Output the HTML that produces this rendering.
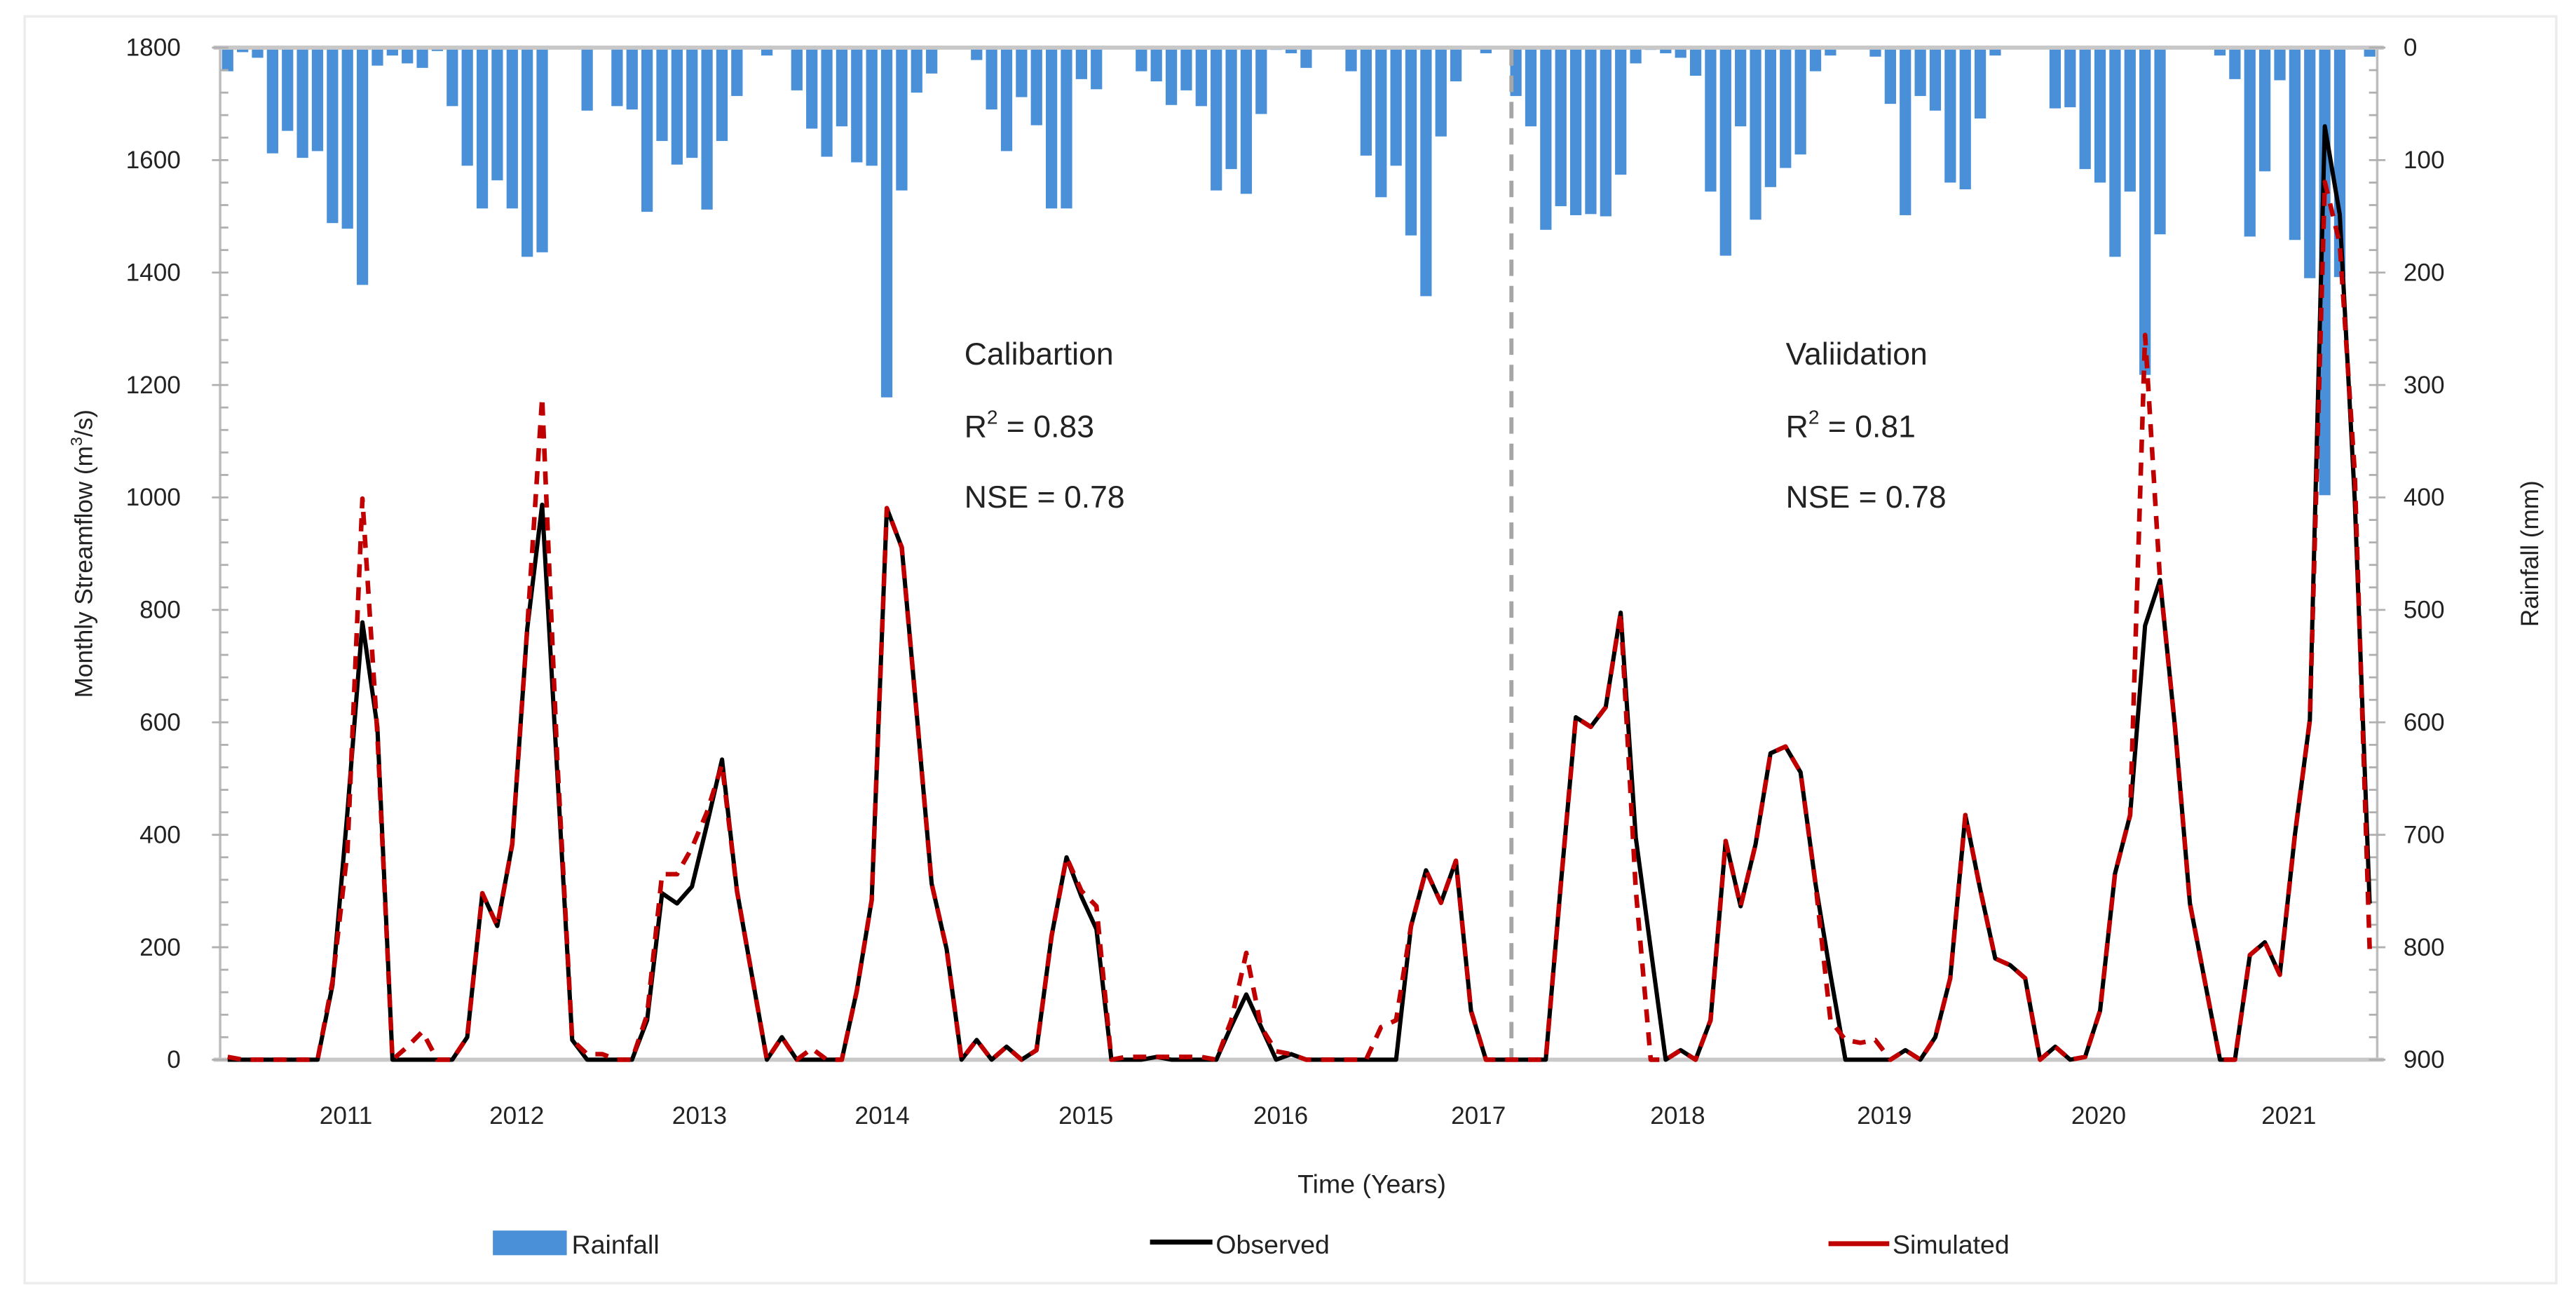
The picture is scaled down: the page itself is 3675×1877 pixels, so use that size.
<!DOCTYPE html>
<html><head><meta charset="utf-8"><title>Streamflow chart</title>
<style>
html,body{margin:0;padding:0;background:#fff;}
svg{display:block;font-family:"Liberation Sans",sans-serif;}
</style></head>
<body>
<svg id="chart" width="3675" height="1877" viewBox="0 0 1568 801" preserveAspectRatio="none" xmlns="http://www.w3.org/2000/svg">
<rect x="15" y="10" width="1541" height="771" fill="#fff" stroke="#ececec" stroke-width="1.5"/>
<g id="bars"></g>
<g id="axes"></g>
<line x1="920" y1="30" x2="920" y2="645" stroke="#a6a6a6" stroke-width="2.5" stroke-dasharray="10,6"/>
<g id="lines"></g>
<g font-size="19" fill="#222">
<text x="587" y="222">Calibartion</text>
<text x="587" y="266">R<tspan font-size="12" dy="-8">2</tspan><tspan dy="8"> = 0.83</tspan></text>
<text x="587" y="309">NSE = 0.78</text>
</g>
<g font-size="19" fill="#222">
<text x="1087" y="222">Valiidation</text>
<text x="1087" y="266">R<tspan font-size="12" dy="-8">2</tspan><tspan dy="8"> = 0.81</tspan></text>
<text x="1087" y="309">NSE = 0.78</text>
</g>
<text transform="translate(56,337) rotate(-90)" text-anchor="middle" font-size="15" fill="#222">Monthly Streamflow (m<tspan font-size="10" dy="-6">3</tspan><tspan dy="6">/s)</tspan></text>
<text transform="translate(1545,337) rotate(-90)" text-anchor="middle" font-size="15" fill="#222">Rainfall (mm)</text>
<text x="835" y="726" text-anchor="middle" font-size="16" fill="#222">Time (Years)</text>
<g font-size="16" fill="#222">
<rect x="300" y="749" width="45" height="15" fill="#4a90d9"/>
<text x="348" y="763">Rainfall</text>
<line x1="700" y1="756" x2="738" y2="756" stroke="#000" stroke-width="3"/>
<text x="740" y="763">Observed</text>
<line x1="1113" y1="757" x2="1150" y2="757" stroke="#c00000" stroke-width="3"/>
<text x="1152" y="763">Simulated</text>
</g>
</svg>
<script>
const rainfall = [21,4,9,94,74,98,92,156,161,211,16,7,14,18,3,52,105,143,118,143,186,182,0,0,56,1,52,55,146,83,104,98,144,83,43,0,
7,0,38,72,97,70,102,105,311,127,40,23,0,0,11,55,92,44,69,143,143,28,37,0,0,21,30,51,38,52,127,108,130,59,2,5,
18,0,0,21,96,133,105,167,221,79,30,0,5,0,43,70,162,141,149,148,150,113,14,2,5,9,25,128,185,70,153,124,107,95,21,7,
0,1,8,50,149,43,56,120,126,63,7,0,0,0,54,53,108,120,186,128,291,166,1,0,0,7,28,168,110,29,171,205,398,204,0,8];
const observed = [0,0,0,0,0,0,0,133,441,778,592,0,0,0,0,0,40,296,238,383,766,987,511,35,0,0,0,0,70,296,278,308,418,534,300,150,
0,40,0,0,0,0,122,284,981,911,615,313,197,0,35,0,23,0,17,220,360,290,232,0,0,0,5,0,0,0,0,60,116,58,0,10,
0,0,0,0,0,0,0,238,337,279,354,87,0,0,0,0,0,313,609,592,627,795,395,197,0,17,0,70,389,273,383,545,557,511,313,151,
0,0,0,0,17,0,40,145,435,302,180,168,145,0,23,0,5,87,331,435,772,853,592,278,139,0,0,186,209,151,400,604,1660,1503,998,278];
const simulated = [5,0,0,0,0,0,0,139,371,998,580,0,23,50,0,0,40,296,238,383,766,1178,534,35,10,10,0,0,80,330,330,377,440,525,300,150,
0,40,0,20,0,0,122,284,981,911,615,313,197,0,35,0,23,0,17,220,360,300,273,0,5,5,5,5,5,5,0,70,190,58,15,10,
0,0,0,0,0,58,70,238,337,279,354,87,0,0,0,0,0,313,609,592,627,795,302,0,0,17,0,70,389,273,383,545,557,511,313,70,
35,30,35,0,17,0,40,145,435,302,180,168,145,0,23,0,5,87,331,435,1289,853,592,278,139,0,0,186,209,151,400,604,1561,1451,1045,197];
const yTicks = [0,200,400,600,800,1000,1200,1400,1600,1800];
const y2Ticks = [0,100,200,300,400,500,600,700,800,900];
const yearLabels = ["2011","2012","2013","2014","2015","2016","2017","2018","2019","2020","2021"];
const yearMonthPos = [7.9,19.3,31.5,43.7,57.3,70.3,83.5,96.8,110.6,124.9,137.6];

const NS = "http://www.w3.org/2000/svg";
const L = 134, R = 1447, T = 29, B = 645;
const N = rainfall.length;
const step = (R - L) / N;
function xAt(i){ return L + (i + 0.5) * step; }
function yFlow(v){ return B - (v / 1800) * (B - T); }
function yRain(v){ return T + (v / 900) * (B - T); }
function mk(tag, attrs, parent){
  const e = document.createElementNS(NS, tag);
  for (const k in attrs) e.setAttribute(k, attrs[k]);
  parent.appendChild(e);
  return e;
}
const bars = document.getElementById('bars');
rainfall.forEach((v, i) => {
  const w = step * 0.76;
  const r = mk('rect', {x: xAt(i) - w/2, y: T, width: w, height: Math.max(0, yRain(v) - T), fill: '#4a90d9'}, bars);
  
  
});
const axes = document.getElementById('axes');
const axisAttrs = {stroke: '#bdbdbd', 'stroke-width': 1.5};
let a;
a = mk('line', Object.assign({x1: L, y1: T, x2: L, y2: B}, axisAttrs), axes);
 
a = mk('line', Object.assign({x1: R, y1: T, x2: R, y2: B}, axisAttrs), axes);
 
a = mk('line', {x1: L - 4, y1: T, x2: R + 4, y2: T, stroke: '#c8c8c8', 'stroke-width': 2.5}, axes);
 
a = mk('line', {x1: L - 4, y1: B, x2: R + 4, y2: B, stroke: '#c8c8c8', 'stroke-width': 2.5}, axes);
 
for (let v = 0; v <= 1800; v += 40) {
  const y = yFlow(v);
  const major = v % 200 === 0;
  const t = mk('line', {x1: major ? L - 5 : L, y1: y, x2: L + 5, y2: y, stroke: '#b0b0b0', 'stroke-width': 1.2}, axes);
   
}
for (let v = 0; v <= 900; v += 20) {
  const y = yRain(v);
  const major = v % 100 === 0;
  const t = mk('line', {x1: R - 5, y1: y, x2: major ? R + 5 : R, y2: y, stroke: '#b0b0b0', 'stroke-width': 1.2}, axes);
   
}
yTicks.forEach(v => {
  const t = mk('text', {x: 110, y: yFlow(v) + 5, 'text-anchor': 'end', 'font-size': 15, fill: '#222'}, axes);
  t.textContent = v;
   
});
y2Ticks.forEach(v => {
  const t = mk('text', {x: 1463, y: yRain(v) + 5, 'text-anchor': 'start', 'font-size': 15, fill: '#222'}, axes);
  t.textContent = v;
   
});
yearLabels.forEach((s, k) => {
  const t = mk('text', {x: xAt(yearMonthPos[k]), y: 684, 'text-anchor': 'middle', 'font-size': 15, fill: '#222'}, axes);
  t.textContent = s;
   
});
const lines = document.getElementById('lines');
function pts(arr){ return arr.map((v, i) => xAt(i).toFixed(1) + ',' + yFlow(v).toFixed(1)).join(' '); }
const obs = mk('polyline', {points: pts(observed), fill: 'none', stroke: '#000', 'stroke-width': 2.6, 'stroke-linejoin': 'round'}, lines);


const sim = mk('polyline', {points: pts(simulated), fill: 'none', stroke: '#c00000', 'stroke-width': 2.8, 'stroke-dasharray': '8,6', 'stroke-linejoin': 'round'}, lines);


</script>
</body></html>
